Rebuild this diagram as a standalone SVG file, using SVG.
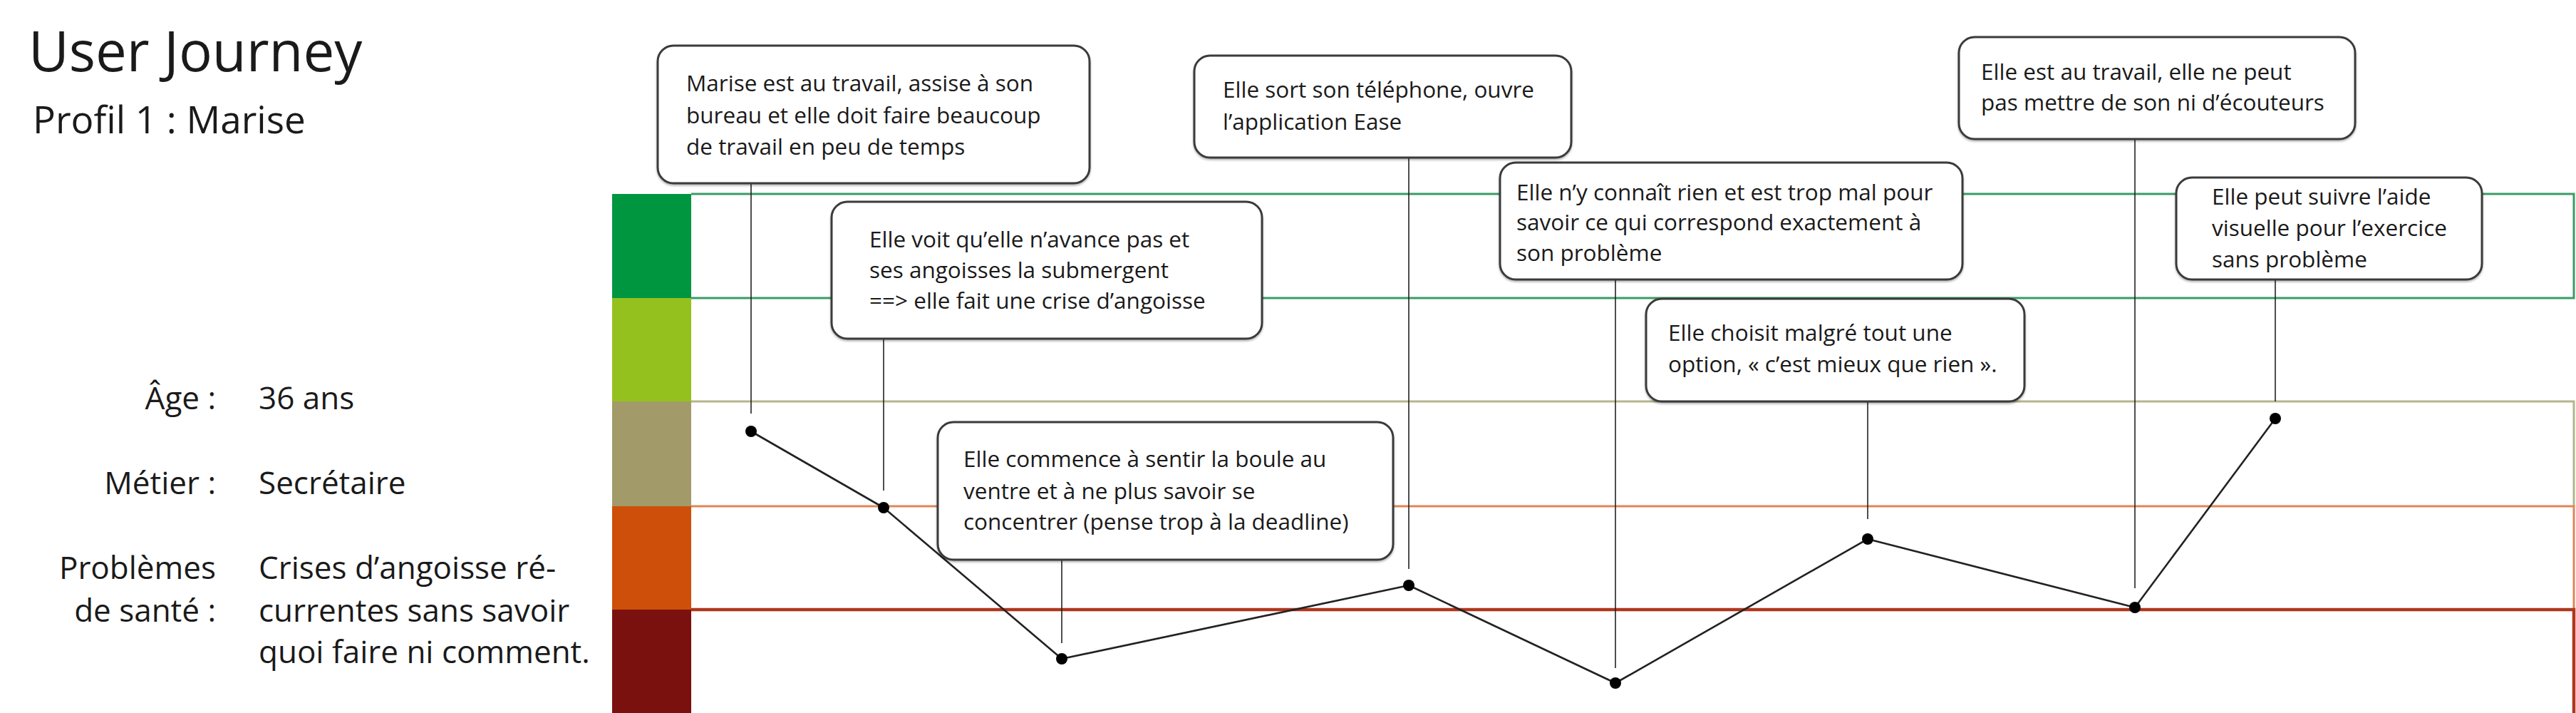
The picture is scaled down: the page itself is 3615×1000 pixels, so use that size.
<svg xmlns="http://www.w3.org/2000/svg" width="3615" height="1000" viewBox="0 0 3615 1000">
<defs>
<filter id="sh" x="-5%" y="-5%" width="110%" height="115%">
<feDropShadow dx="0" dy="2" stdDeviation="1.5" flood-color="#000" flood-opacity="0.3"/>
</filter>
<style>
text{font-family:"Open Sans","Noto Sans","Liberation Sans",sans-serif;fill:#1a1a1a}
.title{font-size:78px}
.sub{font-size:53px}
.lbl{font-size:44px}
.bt{font-size:31.5px}
.box{fill:#fff;stroke:#3a3a3a;stroke-width:3;filter:url(#sh)}
.vl{stroke:#222;stroke-width:1.6;fill:none}
.curve{stroke:#222;stroke-width:2.6;fill:none;stroke-linejoin:round}
.dot{fill:#000}
</style>
</defs>
<rect width="3615" height="1000" fill="#fff"/>

<g id="header">
<text class="title" x="40" y="100">User Journey</text>
<text class="sub" x="46" y="187">Profil 1 : Marise</text>
</g>

<g id="profile">
<text class="lbl" x="303" y="574" text-anchor="end">Âge :</text>
<text class="lbl" x="363" y="574">36 ans</text>
<text class="lbl" x="303" y="693" text-anchor="end">Métier :</text>
<text class="lbl" x="363" y="693">Secrétaire</text>
<text class="lbl" x="303" y="812" text-anchor="end">Problèmes</text>
<text class="lbl" x="303" y="872" text-anchor="end">de santé :</text>
<text class="lbl" x="363" y="812">Crises d’angoisse ré-</text>
<text class="lbl" x="363" y="872">currentes sans savoir</text>
<text class="lbl" x="363" y="930">quoi faire ni comment.</text>
</g>

<g id="scale">
<rect x="859" y="272" width="111" height="146" fill="#009640"/>
<rect x="859" y="418" width="111" height="145" fill="#95C11F"/>
<rect x="859" y="563" width="111" height="147" fill="#A39A6A"/>
<rect x="859" y="710" width="111" height="145" fill="#CD4F0A"/>
<rect x="859" y="855" width="111" height="145" fill="#7A110F"/>
<path d="M970,272 H3612 V418 H970" fill="none" stroke="#3a9c66" stroke-width="3"/>
<path d="M970,563 H3612 V710" fill="none" stroke="#b4b68c" stroke-width="3"/>
<path d="M970,710 H3612 V855" fill="none" stroke="#e08558" stroke-width="3"/>
<path d="M970,855 H3612 V1000" fill="none" stroke="#b0361c" stroke-width="4.5"/>
</g>

<g id="connectors">
<line class="vl" x1="1054" y1="257" x2="1054" y2="580"/>
<line class="vl" x1="1240" y1="475" x2="1240" y2="688"/>
<line class="vl" x1="1490" y1="785" x2="1490" y2="902"/>
<line class="vl" x1="1977" y1="221" x2="1977" y2="798"/>
<line class="vl" x1="2267" y1="392" x2="2267" y2="937"/>
<line class="vl" x1="2621" y1="563" x2="2621" y2="728"/>
<line class="vl" x1="2996" y1="195" x2="2996" y2="825"/>
<line class="vl" x1="3193" y1="392" x2="3193" y2="563"/>
<polyline class="curve" points="1054,605 1240,712 1490,924 1977,821 2267,958 2621,756 2996,852 3193,587"/>
<circle class="dot" cx="1054" cy="605" r="8"/>
<circle class="dot" cx="1240" cy="712" r="8"/>
<circle class="dot" cx="1490" cy="924" r="8"/>
<circle class="dot" cx="1977" cy="821" r="8"/>
<circle class="dot" cx="2267" cy="958" r="8"/>
<circle class="dot" cx="2621" cy="756" r="8"/>
<circle class="dot" cx="2996" cy="852" r="8"/>
<circle class="dot" cx="3193" cy="587" r="8"/>
</g>

<g id="n1">
<rect class="box" x="923" y="64" width="606" height="193" rx="22"/>
<text class="bt" x="963" y="128">Marise est au travail, assise à son</text>
<text class="bt" x="963" y="173">bureau et elle doit faire beaucoup</text>
<text class="bt" x="963" y="217">de travail en peu de temps</text>
</g>

<g id="n2">
<rect class="box" x="1167" y="283" width="604" height="192" rx="22"/>
<text class="bt" x="1220" y="347">Elle voit qu’elle n’avance pas et</text>
<text class="bt" x="1220" y="390">ses angoisses la submergent</text>
<text class="bt" x="1220" y="433">==&gt; elle fait une crise d’angoisse</text>
</g>

<g id="n3">
<rect class="box" x="1316" y="592" width="639" height="193" rx="22"/>
<text class="bt" x="1352" y="655">Elle commence à sentir la boule au</text>
<text class="bt" x="1352" y="700">ventre et à ne plus savoir se</text>
<text class="bt" x="1352" y="743">concentrer (pense trop à la deadline)</text>
</g>

<g id="n4">
<rect class="box" x="1676" y="78" width="529" height="143" rx="22"/>
<text class="bt" x="1716" y="137">Elle sort son téléphone, ouvre</text>
<text class="bt" x="1716" y="182">l’application Ease</text>
</g>

<g id="n5">
<rect class="box" x="2105" y="228" width="649" height="164" rx="22"/>
<text class="bt" x="2128" y="281">Elle n’y connaît rien et est trop mal pour</text>
<text class="bt" x="2128" y="323">savoir ce qui correspond exactement à</text>
<text class="bt" x="2128" y="366">son problème</text>
</g>

<g id="n6">
<rect class="box" x="2310" y="419" width="531" height="144" rx="22"/>
<text class="bt" x="2341" y="478">Elle choisit malgré tout une</text>
<text class="bt" x="2341" y="522">option, « c’est mieux que rien ».</text>
</g>

<g id="n7">
<rect class="box" x="2749" y="52" width="556" height="143" rx="22"/>
<text class="bt" x="2780" y="112">Elle est au travail, elle ne peut</text>
<text class="bt" x="2780" y="155">pas mettre de son ni d’écouteurs</text>
</g>

<g id="n8">
<rect class="box" x="3054" y="249" width="429" height="143" rx="22"/>
<text class="bt" x="3104" y="287">Elle peut suivre l’aide</text>
<text class="bt" x="3104" y="331">visuelle pour l’exercice</text>
<text class="bt" x="3104" y="375">sans problème</text>
</g>
</svg>
